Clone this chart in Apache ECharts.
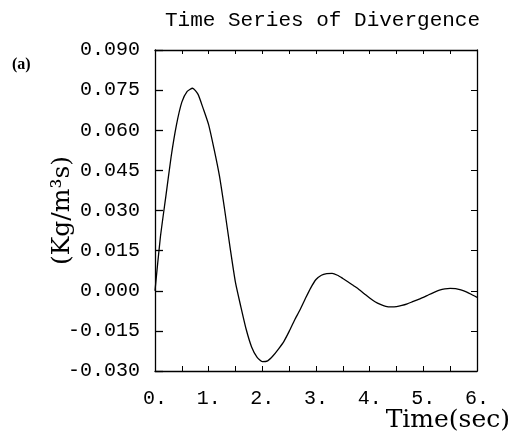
<!DOCTYPE html>
<html>
<head>
<meta charset="utf-8">
<script src="https://cdn.jsdelivr.net/npm/echarts@6/dist/echarts.min.js"></script>
<style>
html,body{margin:0;padding:0;background:#fff;}
#chart{width:514px;height:439px;}
</style>
</head>
<body>
<div id="chart"></div>
<script>
// Time (sec)
var timeValues = [0.0, 0.1, 0.2, 0.3, 0.4, 0.5, 0.6, 0.7, 0.8, 0.9,
                  1.0, 1.1, 1.2, 1.3, 1.4, 1.5, 1.6, 1.7, 1.8, 1.9,
                  2.0, 2.1, 2.2, 2.3, 2.4, 2.5, 2.6, 2.7, 2.8, 2.9,
                  3.0, 3.1, 3.2, 3.3, 3.4, 3.5, 3.6, 3.7, 3.8, 3.9,
                  4.0, 4.1, 4.2, 4.3, 4.4, 4.5, 4.6, 4.7, 4.8, 4.9,
                  5.0, 5.1, 5.2, 5.3, 5.4, 5.5, 5.6, 5.7, 5.8, 5.9, 6.0];
// Divergence (Kg/m^3 s)
var divergenceValues = [0.0, 0.020, 0.035, 0.050, 0.062, 0.0705, 0.0745, 0.0757, 0.0735, 0.068,
                        0.062, 0.053, 0.043, 0.030, 0.016, 0.003, -0.006, -0.0145, -0.021, -0.0248,
                        -0.0265, -0.0262, -0.0243, -0.0218, -0.019, -0.0152, -0.011, -0.0072, -0.003, 0.001,
                        0.0042, 0.0058, 0.0064, 0.0065, 0.0058, 0.0046, 0.0033, 0.0019, 0.0005, -0.0011,
                        -0.0027, -0.0041, -0.0051, -0.0058, -0.006, -0.0059, -0.0055, -0.0049, -0.0041, -0.0033,
                        -0.0025, -0.0015, -0.0006, 0.0002, 0.0007, 0.0009, 0.0008, 0.0003, -0.0004, -0.0014, -0.0025];
var xTickLabels = ['0.', '1.', '2.', '3.', '4.', '5.', '6.'];
var yTickLabels = ['-0.030', '-0.015', '0.000', '0.015', '0.030', '0.045', '0.060', '0.075', '0.090'];

var data = timeValues.map(function (t, i) { return [t, divergenceValues[i]]; });

var chart = echarts.init(document.getElementById('chart'), null, {renderer: 'canvas'});
var monoFont = '"Liberation Mono", "DejaVu Sans Mono", monospace';
var serifFont = '"DejaVu Serif", "Liberation Serif", serif';
function axisLine() { return {show: true, onZero: false, lineStyle: {color: '#000', width: 1.3}}; }

chart.setOption({
  animation: false,
  backgroundColor: '#fff',
  title: {
    text: 'Time Series of Divergence',
    left: 160,
    top: 5,
    textStyle: {fontFamily: monoFont, fontSize: 21, fontWeight: 'normal', color: '#000'}
  },
  graphic: [{
    type: 'text',
    left: 12,
    top: 57,
    style: {text: '(a)', font: 'bold 16px "Liberation Serif", serif', fill: '#000'}
  }, {
    type: 'text',
    right: 4,
    top: 408,
    style: {text: 'Time(sec)', font: '25px ' + serifFont, fill: '#000'}
  }],
  grid: {left: 155, right: 37, top: 50, bottom: 68, containLabel: false, outerBoundsMode: 'none'},
  xAxis: [{
    type: 'value', min: 0, max: 6, interval: 1,
    position: 'bottom',
    axisLine: axisLine(),
    axisTick: {show: true, inside: true, length: 5, lineStyle: {color: '#000'}},
    minorTick: {show: true, splitNumber: 2, length: 5, lineStyle: {color: '#000'}},
    splitLine: {show: false},
    axisLabel: {
      margin: 18, fontFamily: monoFont, fontSize: 20, color: '#000',
      formatter: function (v) { return xTickLabels[Math.round(v)]; }
    }
  }, {
    type: 'value', min: 0, max: 6, interval: 0.5,
    position: 'top',
    axisLine: axisLine(),
    axisTick: {show: true, inside: true, length: 4, lineStyle: {color: '#000'}},
    axisLabel: {show: false},
    splitLine: {show: false}
  }],
  yAxis: [{
    type: 'value', min: -0.03, max: 0.09, interval: 0.015,
    position: 'left',
    axisLine: axisLine(),
    axisTick: {show: true, inside: true, length: 8, lineStyle: {color: '#000', width: 1.3}},
    splitLine: {show: false},
    axisLabel: {
      margin: 15, fontFamily: monoFont, fontSize: 20, color: '#000',
      formatter: function (v) { return yTickLabels[Math.round((v + 0.03) / 0.015)]; }
    },
    name: '(Kg/m³s)', nameLocation: 'middle', nameRotate: 90, nameGap: 80, nameMoveOverlap: false,
    nameTextStyle: {fontFamily: serifFont, fontSize: 25, color: '#000'}
  }, {
    type: 'value', min: -0.03, max: 0.09, interval: 0.015,
    position: 'right',
    axisLine: axisLine(),
    axisTick: {show: true, inside: true, length: 6, lineStyle: {color: '#000'}},
    axisLabel: {show: false},
    splitLine: {show: false}
  }],
  series: [{
    type: 'line',
    data: data,
    smooth: 0.2,
    showSymbol: false,
    symbol: 'none',
    lineStyle: {color: '#000', width: 1.3}
  }]
});
</script>
</body>
</html>
